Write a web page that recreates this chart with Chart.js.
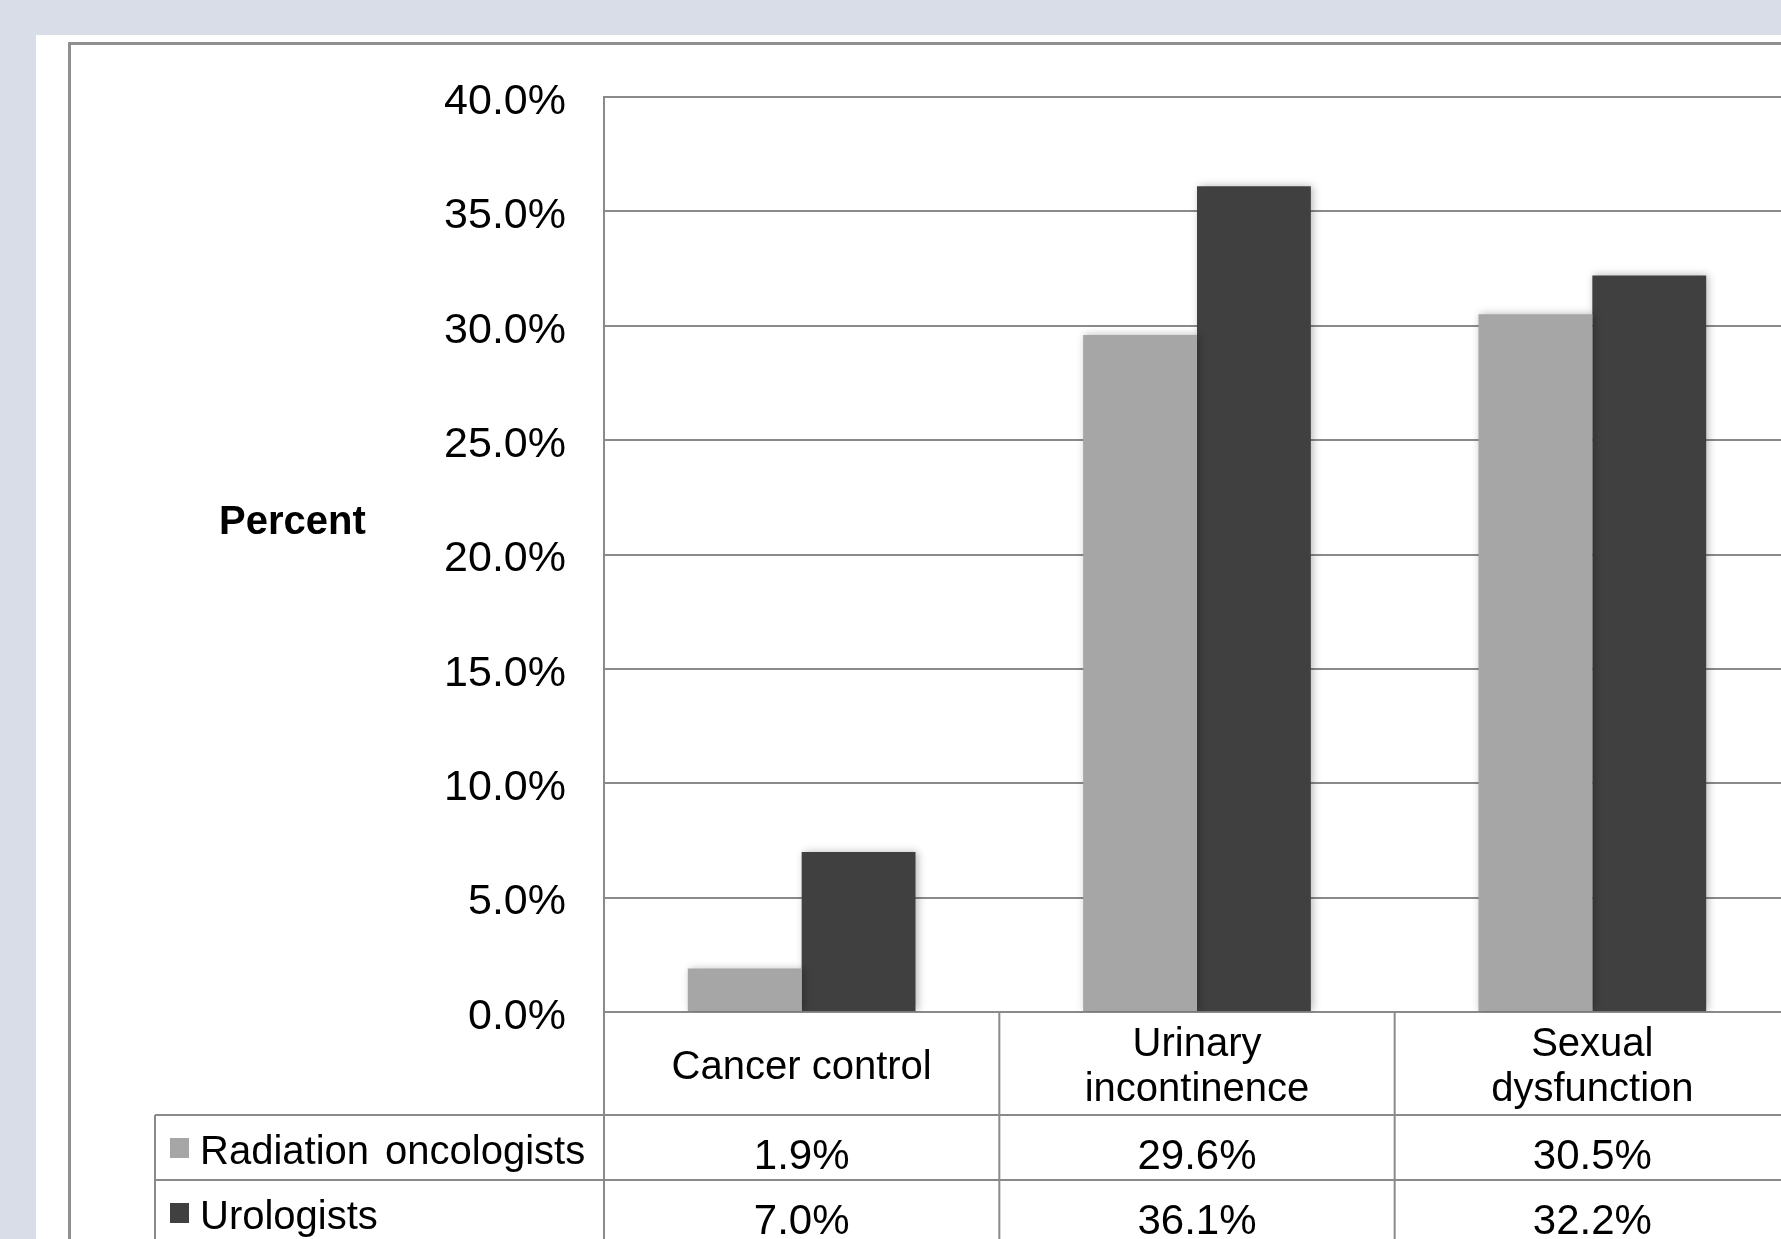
<!DOCTYPE html>
<html><head><meta charset="utf-8">
<script src="https://cdn.jsdelivr.net/npm/chart.js@4.4.1/dist/chart.umd.min.js"></script>
<style>
html,body{margin:0;padding:0;width:1781px;height:1239px;overflow:hidden;background:#d8dde7;}
#panel{position:absolute;left:36px;top:35px;width:1900px;height:1400px;background:#fff;}
#frame{position:absolute;left:68px;top:42px;width:1900px;height:1400px;border-left:3px solid #8f8f8f;border-top:3px solid #8f8f8f;}
#wrap{position:absolute;left:0;top:0;width:1900px;height:1300px;}
</style></head><body>
<div id="panel"></div><div id="frame"></div>
<div id="wrap"><canvas id="c" width="1900" height="1300"></canvas></div>
<script>
const categories = ['Cancer control', ['Urinary', 'incontinence'], ['Sexual', 'dysfunction']];
const seriesNames = ['Radiation oncologists', 'Urologists'];
const radiationOncologists = [1.9, 29.6, 30.5];
const urologists = [7.0, 36.1, 32.2];
const yTickLabels = ['0.0%', '5.0%', '10.0%', '15.0%', '20.0%', '25.0%', '30.0%', '35.0%', '40.0%'];
const axisTitle = 'Percent';

const FONT = "'Liberation Sans', Arial, Helvetica, sans-serif";
const GRID = '#8a8a8a';
const COLORS = ['#a6a6a6', '#404040'];

const shadowPlugin = {
  id: 'shadow',
  beforeDatasetsDraw(c) {
    const ctx = c.ctx; ctx.save();
    ctx.shadowColor = 'rgba(0,0,0,0.28)'; ctx.shadowBlur = 8;
    ctx.shadowOffsetX = 2; ctx.shadowOffsetY = 0;
  },
  afterDatasetsDraw(c) { c.ctx.restore(); }
};

const titlePlugin = {
  id: 'ytitle',
  afterDraw(c) {
    const ctx = c.ctx, a = c.chartArea;
    ctx.save();
    ctx.font = 'bold 40px ' + FONT; ctx.fillStyle = '#000';
    ctx.textAlign = 'left'; ctx.textBaseline = 'alphabetic';
    ctx.fillText(axisTitle, a.left - 385, a.top + 437);
    ctx.restore();
  }
};

const tablePlugin = {
  id: 'datatable',
  afterDraw(c) {
    const ctx = c.ctx, a = c.chartArea, x = c.scales.x;
    const n = c.data.labels.length;
    const step = x.getPixelForValue(1) - x.getPixelForValue(0);
    const y0 = a.bottom, y1 = y0 + 103, rowH = 65;
    const yEnd = y1 + rowH * c.data.datasets.length;
    const legendLeft = a.left - 449;
    ctx.save();
    ctx.strokeStyle = GRID; ctx.lineWidth = 2;
    ctx.beginPath();
    for (let r = 0; r <= c.data.datasets.length; r++) {
      const y = y1 + r * rowH;
      ctx.moveTo(legendLeft, y); ctx.lineTo(a.right, y);
    }
    ctx.moveTo(legendLeft, y1); ctx.lineTo(legendLeft, yEnd);
    for (let i = 0; i <= n; i++) {
      const bx = x.getPixelForValue(0) - step / 2 + i * step;
      ctx.moveTo(bx, y0); ctx.lineTo(bx, yEnd);
    }
    ctx.stroke();
    c.data.datasets.forEach((ds, r) => {
      const top = y1 + r * rowH;
      ctx.fillStyle = ds.backgroundColor;
      ctx.fillRect(legendLeft + 15, top + 23, 19, 20);
      ctx.fillStyle = '#000';
      ctx.font = '40px ' + FONT;
      ctx.textAlign = 'left'; ctx.textBaseline = 'alphabetic';
      if ('wordSpacing' in ctx) ctx.wordSpacing = '5px';
      ctx.fillText(ds.label, legendLeft + 45, top + 49);
      if ('wordSpacing' in ctx) ctx.wordSpacing = '0px';
      ctx.font = '42px ' + FONT; ctx.textAlign = 'center';
      ds.data.forEach((v, i) => ctx.fillText(v.toFixed(1) + '%', x.getPixelForValue(i), top + 54));
    });
    ctx.restore();
  }
};

new Chart(document.getElementById('c'), {
  type: 'bar',
  data: {
    labels: categories,
    datasets: [
      { label: seriesNames[0], data: radiationOncologists, backgroundColor: COLORS[0], categoryPercentage: 0.576, barPercentage: 1 },
      { label: seriesNames[1], data: urologists, backgroundColor: COLORS[1], categoryPercentage: 0.576, barPercentage: 1 }
    ]
  },
  options: {
    responsive: false, animation: false, devicePixelRatio: 1,
    layout: { padding: { top: 97, right: 110, left: 0, bottom: 0 } },
    plugins: { legend: { display: false }, tooltip: { enabled: false } },
    scales: {
      x: {
        grid: { display: false, drawTicks: false },
        border: { display: true, color: GRID, width: 2 },
        ticks: { color: '#000', font: { family: FONT, size: 40, lineHeight: 1.125 }, padding: 33, crossAlign: 'center', maxRotation: 0, autoSkip: false },
        afterFit(s) { s.height = 288; }
      },
      y: {
        min: 0, max: 40,
        ticks: { stepSize: 5, callback: (v, i) => yTickLabels[i], color: '#000', font: { family: FONT, size: 43 }, padding: 38, labelOffset: 5 },
        grid: { color: GRID, lineWidth: 2, drawTicks: false },
        border: { display: true, color: GRID, width: 2 },
        afterFit(s) { s.width = 604; }
      }
    }
  },
  plugins: [shadowPlugin, tablePlugin, titlePlugin]
});
</script>
</body></html>
